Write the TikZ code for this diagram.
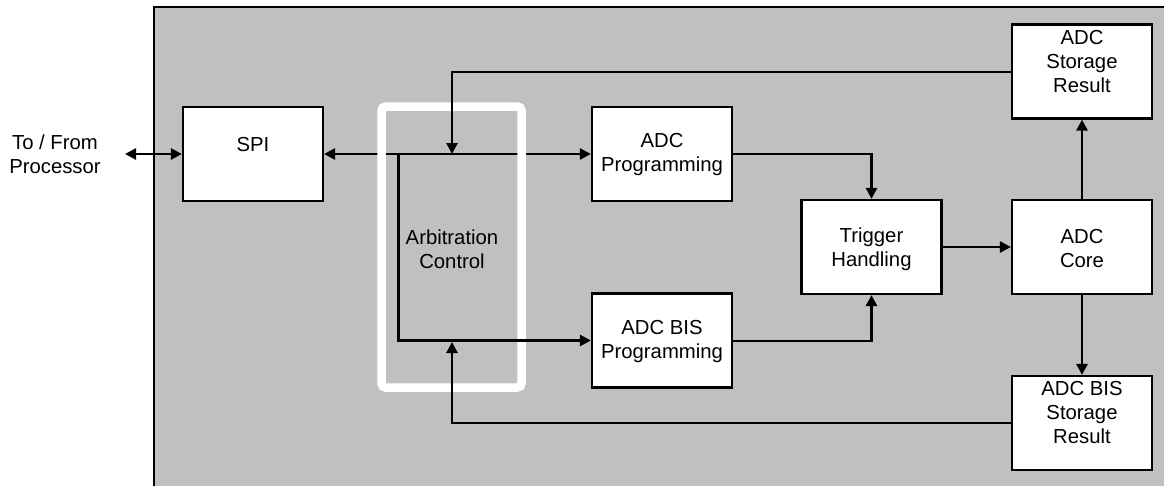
\documentclass[tikz,border=0pt]{standalone}
\usepackage{fontspec}
\setmainfont{Liberation Sans}
\usetikzlibrary{arrows.meta}
\definecolor{panelgray}{HTML}{C0C0C0}
\tikzset{
  blk/.style={draw=black, fill=white, line width=2.2pt, minimum width=140pt, minimum height=94pt, inner sep=0pt},
  txt/.style={align=center, font=\fontsize{20.3}{24}\selectfont, inner sep=0pt},
  conn/.style={draw=black, line width=2.6pt, -{Triangle[length=11pt,width=11pt]}},
  conn2/.style={draw=black, line width=2.6pt, {Triangle[length=11pt,width=11pt]}-{Triangle[length=11pt,width=11pt]}},
  frame/.style={draw=white, line width=8.5pt, rounded corners=4pt}
}
\begin{document}
\begin{tikzpicture}[x=1pt,y=-1pt]
\clip (0,0) rectangle (1164,485);
\fill[white] (0,0) rectangle (1164,485);
\draw[fill=panelgray, line width=2.2pt] (154,7) rectangle (1180,500);

% blocks
\node[blk] (spi) at (253,154) {};
\node[txt] (spiT) at (253,145) {SPI};
\node[blk] (adcp) at (662,154) {};
\node[txt] (adcpT) at (662,155) {ADC\\Programming};
\node[blk] (bisp) at (662,340.5) {};
\node[txt] (bispT) at (662,342) {ADC BIS\\Programming};
\node[blk] (trig) at (871.5,247) {};
\node[txt] (trigT) at (871.5,249) {Trigger\\Handling};
\node[blk] (core) at (1082,247) {};
\node[txt] (coreT) at (1082,249) {ADC\\Core};
\node[blk] (sres) at (1082,71.5) {};
\node[txt] (sresT) at (1082,62) {ADC\\Storage\\Result};
\node[blk] (bres) at (1082,423) {};
\node[txt] (bresT) at (1082,413) {ADC BIS\\Storage\\Result};

\node[txt] (proc) at (55,154.5) {To / From\\Processor};
\coordinate (ext) at (125,154);

% connectors
\draw[conn2] (ext) -- (spi.west);
\draw[conn2] (spi.east) -- (adcp.west);

% arbitration frame
\draw[frame] (381.5,106.5) rectangle (521.5,387.5);
\node[txt] (arbT) at (452,249) {Arbitration\\Control};

\coordinate (split) at (398.5,154);
\draw[conn] (split) |- (bisp.west);
\coordinate (fbtop) at (452,154);
\coordinate (fbbot) at (452,342);
\draw[conn] (sres.west |- 0,72) -| (fbtop);
\draw[conn] (bres.west |- 0,423) -| (fbbot);

\draw[conn] (adcp.east) -| (trig.north);
\draw[conn] (bisp.east |- 0,341) -| (trig.south);
\draw[conn] (trig.east) -- (core.west);
\draw[conn] (core.north) -- (sres.south);
\draw[conn] (core.south) -- (bres.north);
\end{tikzpicture}
\end{document}
